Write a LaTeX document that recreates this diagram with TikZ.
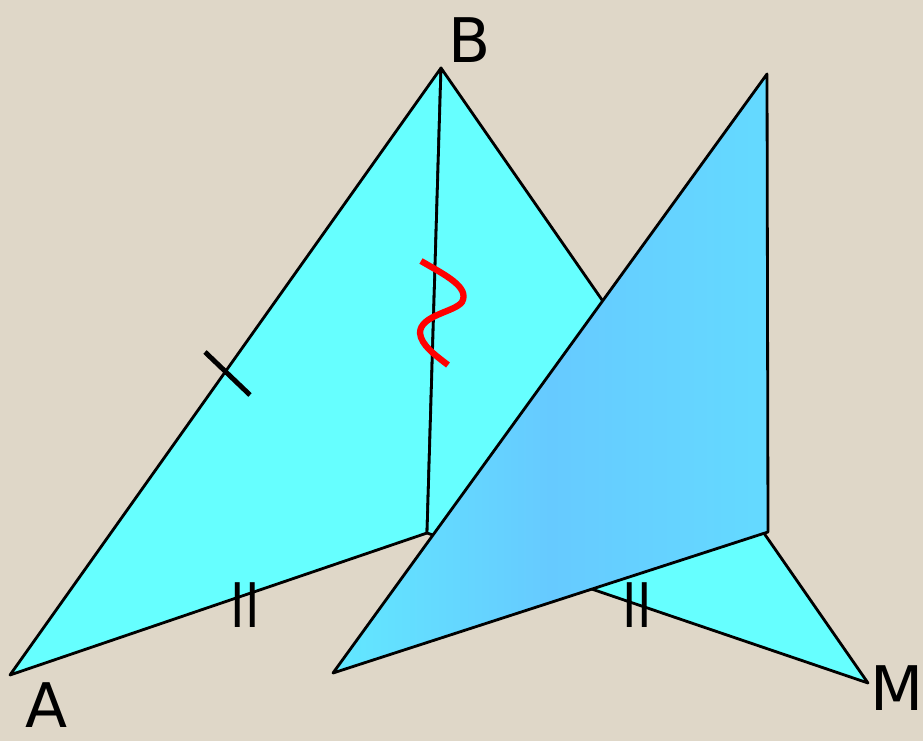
\documentclass[tikz,border=0pt]{standalone}
\usepackage{fontspec}
\setmainfont{DejaVu Sans}
\definecolor{bgbeige}{RGB}{223,215,200}
\definecolor{facecyan}{RGB}{102,255,255}
\definecolor{planeleft}{RGB}{98,232,255}
\definecolor{planemid}{RGB}{102,202,255}
\definecolor{planeright}{RGB}{100,218,255}

\begin{document}
\begin{tikzpicture}[x=0.02cm, y=-0.02cm, every node/.style={font=\fontsize{35}{40}\selectfont, inner sep=0pt},
    edge/.style={draw=black, line width=1.6pt, line join=round},
    eqmark/.style={xscale=0.8}]
      \fill[bgbeige] (0,0) rectangle (923,741);
      \useasboundingbox (0,0) rectangle (923,741);
      \coordinate (A) at (10,675);
      \coordinate (B) at (441,68);
      \coordinate (D) at (427,533);
      \coordinate (M) at (868,683);
      \coordinate (P) at (767,74);
      \coordinate (Q) at (768,532);
      \coordinate (R) at (333,673);
      \filldraw[edge, fill=facecyan] (A) -- (B) -- (D) -- cycle;
      \filldraw[edge, fill=facecyan] (B) -- (M) -- (D) -- cycle;
      \shade[left color=planeleft, right color=planeright, middle color=planemid] (R) -- (P) -- (Q) -- cycle;
      \draw[edge] (R) -- (P) -- (Q) -- cycle;
      % tick on AB
      \coordinate (tickS) at (205,352);
      \coordinate (tickE) at (250,395);
      \draw[line width=2.8pt] (tickS) -- (tickE);
      % equal marks
      \node[eqmark] (markL) at (245,605) {II};
      \node[eqmark] (markR) at (637,605) {II};
      % angle squiggle
      \draw[red, line width=3.6pt] (421,261) .. controls (445,275) and (470,287) .. (462,302)
        .. controls (455,312) and (420,315) .. (420,333) .. controls (421,345) and (435,355) .. (448,365);
      \node (labA) at (47,705) {A};
      \node (labB) at (470,40) {B};
      \node (labM) at (897,688) {M};
    \end{tikzpicture}
\end{document}
